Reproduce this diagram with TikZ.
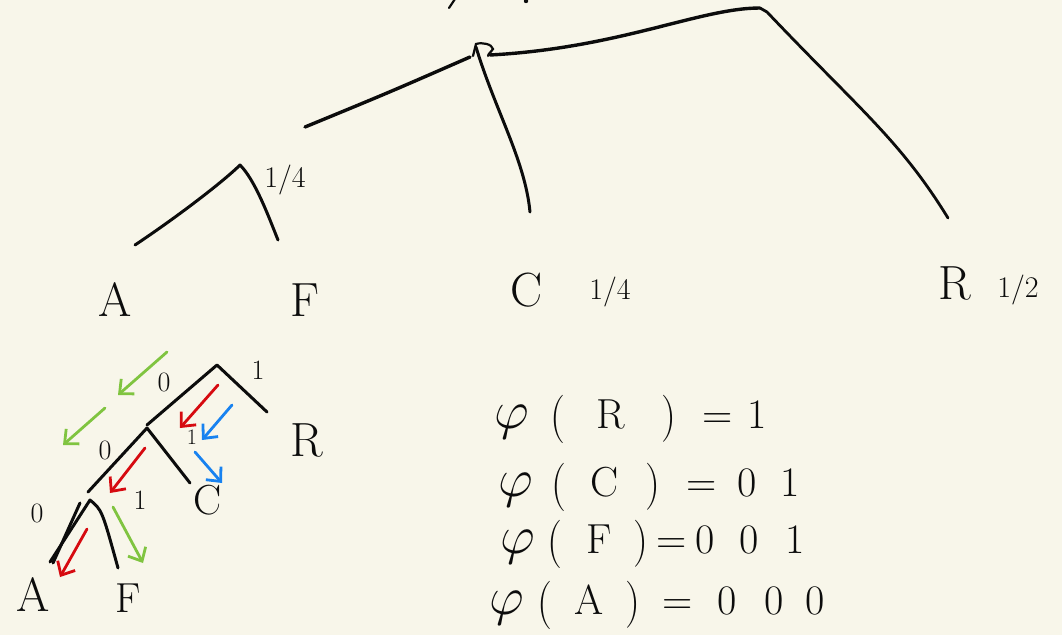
\RequirePackage{fix-cm}
\documentclass[tikz,border=0pt]{standalone}
\usetikzlibrary{arrows.meta}
\definecolor{paper}{RGB}{248,246,234}
\definecolor{ink}{RGB}{12,12,12}
\definecolor{hgreen}{RGB}{128,196,64}
\definecolor{hred}{RGB}{214,10,16}
\definecolor{hblue}{RGB}{24,130,240}
\newcommand{\ch}[2]{\makebox[#1pt][c]{#2}}
\newcommand{\phichar}{{\fontsize{54}{54}\selectfont$\varphi$}}
\newcommand{\lp}{\raisebox{-3pt}{\scalebox{1}[1.15]{(}}}
\newcommand{\rp}{\raisebox{-2pt}{\scalebox{1}[1.12]{)}}}
\begin{document}
\begin{tikzpicture}[x=1pt,y=-1pt,
  edge/.style={draw=ink,line width=3.4pt,line cap=round,line join=round},
  thin edge/.style={draw=ink,line width=2.2pt,line cap=round},
  harrow/.style={line width=2.8pt,line cap=round,-{Straight Barb[length=11pt,width=20pt,line width=2.8pt]}},
  big/.style={font=\fontsize{48}{48}\selectfont,text=ink,inner sep=0pt},
  mid/.style={font=\fontsize{42}{42}\selectfont,text=ink,inner sep=0pt},
  small/.style={font=\fontsize{28}{28}\selectfont,text=ink,inner sep=0pt},
  frac/.style={font=\fontsize{30}{30}\selectfont,text=ink,inner sep=0pt},
  formula/.style={font=\fontsize{42}{42}\selectfont,text=ink,inner sep=0pt,anchor=base west}]
\fill[paper] (0,0) rectangle (1062,635);
\useasboundingbox (0,0) rectangle (1062,635);

% ---------- top tree ----------
\coordinate (rootR) at (490,55);
\coordinate (topcorner) at (760,8);
\coordinate (Rend) at (948,218);
\coordinate (Cend) at (530,212);
\coordinate (Lend) at (305,127);
\coordinate (Lstart) at (470,57);
\coordinate (sub) at (240,165);
\coordinate (subA) at (135,245);
\coordinate (subF) at (278,240);
\coordinate (frag1a) at (449,8);
\coordinate (frag1b) at (455,-1);
\coordinate (frag2) at (526,1);

\draw[edge] (Lend) .. controls (390,92) .. (Lstart);
\draw[edge] (rootR) .. controls (620,48) and (700,8) .. (topcorner);
\draw[edge,line width=2.8pt] (topcorner) -- (767,12) .. controls (860,110) and (900,140) .. (Rend);
\draw[edge,line width=3pt] (476,47) .. controls (495,110) and (525,160) .. (Cend);
\draw[thin edge] (473,56) -- (476,44) .. controls (482,42) and (492,44) .. (493,49) .. controls (491,52) and (488,54) .. (488,56);
\draw[thin edge] (frag1a) -- (frag1b);
\fill[ink] (frag2) circle (2.2pt);
\draw[edge,line width=3pt] (subA) .. controls (180,215) and (225,180) .. (sub) .. controls (255,180) and (268,215) .. (subF);

\node[frac] (q1) at (285,180) {1/4};
\node[big] (A1) at (115,300) {A};
\node[big] (F1) at (305,300) {F};
\node[big] (C1) at (527,290) {C};
\node[frac] (q2) at (610,292) {1/4};
\node[big] (R1) at (955,283) {R};
\node[frac] (h1) at (1018,290) {1/2};

% ---------- lower tree ----------
\coordinate (n1) at (217,365);
\coordinate (n1L) at (147,425);
\coordinate (n1R) at (267,412);
\coordinate (n2) at (147,428);
\coordinate (n2L) at (88,492);
\coordinate (n2R) at (190,483);
\coordinate (n3) at (90,500);
\coordinate (n3L) at (50,562);
\coordinate (n3R) at (118,568);
\coordinate (n3Lb) at (80,503);
\coordinate (n3Lc) at (53,563);

\draw[edge,line width=3pt] (n1L) -- (n1) -- (n1R);
\draw[edge,line width=3pt] (n2L) -- (n2) -- (n2R);
\draw[edge,line width=3pt] (n3L) -- (n3) .. controls (102,510) .. (n3R);
\draw[edge,line width=3pt] (n3Lb) -- (n3Lc);

\node[small] (b1) at (258,370) {1};
\node[small] (b0a) at (164,382) {0};
\node[small] (b0b) at (105,450) {0};
\node[frac,font=\fontsize{22}{22}\selectfont] (b1b) at (192,437) {1};
\node[small] (b0c) at (37,513) {0};
\node[small] (b1c) at (140,500) {1};
\node[big] (R2) at (307,440) {R};
\node[mid] (C2) at (208,500) {C};
\node[big] (A2) at (33,595) {A};
\node[mid] (F2) at (128,598) {F};

% ---------- coloured code arrows ----------
\coordinate (g1s) at (167,352); \coordinate (g1e) at (118,395);
\coordinate (g2s) at (105,408); \coordinate (g2e) at (63,445);
\coordinate (r1s) at (218,385); \coordinate (r1e) at (180,428);
\coordinate (u1s) at (232,405); \coordinate (u1e) at (202,440);
\coordinate (u2s) at (195,452); \coordinate (u2e) at (222,483);
\coordinate (r2s) at (145,448); \coordinate (r2e) at (110,493);
\coordinate (r3s) at (87,529);  \coordinate (r3e) at (60,577);
\coordinate (g3s) at (113,507); \coordinate (g3e) at (143,563);

\draw[harrow,hgreen] (g1s) -- (g1e);
\draw[harrow,hgreen] (g2s) -- (g2e);
\draw[harrow,hred] (r1s) -- (r1e);
\draw[harrow,hblue] (u1s) -- (u1e);
\draw[harrow,hblue] (u2s) -- (u2e);
\draw[harrow,hred] (r2s) -- (r2e);
\draw[harrow,hred] (r3s) -- (r3e);
\draw[harrow,hgreen] (g3s) -- (g3e);

% ---------- code words ----------
\node[formula] (phiR) at (490,428) {\ch{44}{\phichar}\ch{46.5}{\lp}\ch{61}{R}\ch{55}{\rp}\ch{41}{=}\ch{39.5}{1}};
\node[formula] (phiC) at (495,496) {\ch{41.5}{\phichar}\ch{43.5}{\lp}\ch{48.5}{C}\ch{49}{\rp}\ch{48}{=}\ch{43.5}{0}\ch{42}{1}};
\node[formula] (phiF) at (500,553) {\ch{35}{\phichar}\ch{39}{\lp}\ch{49}{F}\ch{35}{\rp}\ch{26}{=}\ch{41}{0}\ch{47.5}{0}\ch{45.5}{1}};
\node[formula] (phiA) at (488,614) {\ch{37}{\phichar}\ch{40}{\lp}\ch{47.5}{A}\ch{41}{\rp}\ch{47.5}{=}\ch{51.5}{0}\ch{42.5}{0}\ch{40}{0}};
\end{tikzpicture}
\end{document}
